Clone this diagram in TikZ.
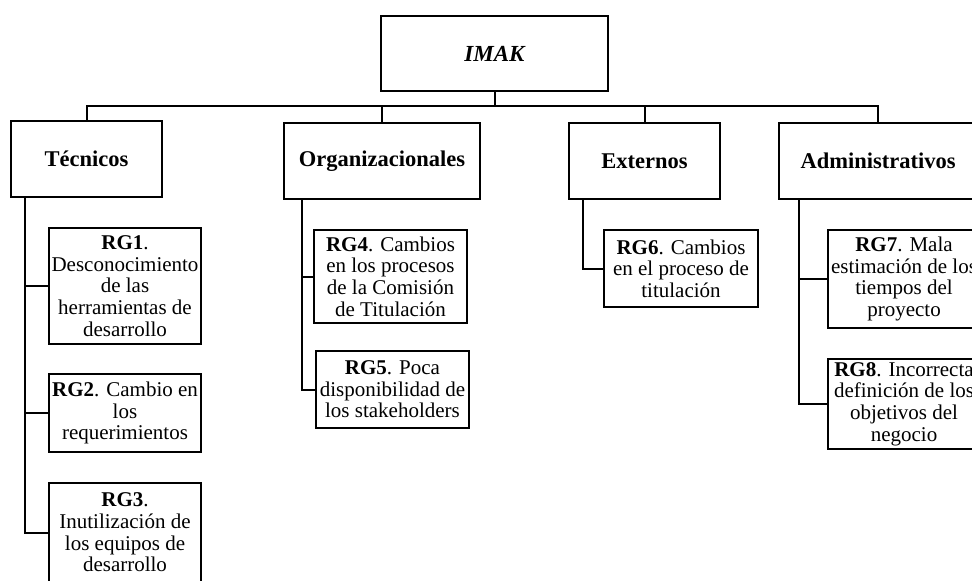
\documentclass[tikz,border=0pt]{standalone}
\usepackage{fontspec}
\setmainfont{Liberation Serif}
\begin{document}
\begin{tikzpicture}[x=1pt,y=-1pt,
  box/.style={draw, line width=2.2pt, inner sep=0pt, align=center},
  head/.style={box, font=\fontsize{22.5}{26}\selectfont\bfseries},
  risk/.style={box, font=\fontsize{21}{21.6}\selectfont},
  link/.style={line width=2pt}]
\useasboundingbox (0,0) rectangle (972,581);
\clip (0,0) rectangle (972,581);

% root
\node[box, minimum width=227pt, minimum height=75pt,
      font=\fontsize{23}{26}\selectfont\bfseries\itshape] (imak) at (494.5,53.5) {IMAK};

% categories
\node[head, minimum width=151pt, minimum height=76pt] (tec) at (86.5,159) {Técnicos};
\node[head, minimum width=196pt, minimum height=76pt] (org) at (382,161) {Organizacionales};
\node[head, minimum width=151pt, minimum height=76pt] (ext) at (644.5,161) {Externos};
\node[head, minimum width=198pt, minimum height=76pt] (adm) at (878,161) {Administrativos};

% risks
\node[risk, minimum width=152pt, minimum height=116pt] (rg1) at (125,286)
  {\textbf{RG1}.\\Desconocimiento\\de las\\herramientas de\\desarrollo};
\node[risk, minimum width=152pt, minimum height=78pt] (rg2) at (125,413)
  {\textbf{RG2}. Cambio en\\los\\requerimientos};
\node[risk, minimum width=152pt, minimum height=99pt] (rg3) at (125,532.5)
  {\textbf{RG3}.\\Inutilización de\\los equipos de\\desarrollo};
\node[risk, minimum width=153pt, minimum height=93pt] (rg4) at (390.5,276.5)
  {\textbf{RG4}. Cambios\\en los procesos\\de la Comisión\\de Titulación};
\node[risk, minimum width=153pt, minimum height=77pt] (rg5) at (392.5,389.5)
  {\textbf{RG5}. Poca\\disponibilidad de\\los stakeholders};
\node[risk, minimum width=154pt, minimum height=77pt] (rg6) at (681,268.5)
  {\textbf{RG6}. Cambios\\en el proceso de\\titulación};
\node[risk, minimum width=152pt, minimum height=98pt] (rg7) at (904,279)
  {\textbf{RG7}. Mala\\estimación de los\\tiempos del\\proyecto};
\node[risk, minimum width=152pt, minimum height=90pt] (rg8) at (904,404)
  {\textbf{RG8}. Incorrecta\\definición de los\\objetivos del\\negocio};

% bus from the root to the categories
\coordinate (bus) at (0,106);
\draw[link] (imak.south) -- (imak.south |- bus);
\foreach \c in {tec,org,ext,adm}
  \draw[link] (imak.south |- bus) -| (\c.north);

% branches from each category to its risks
\draw[link] ([xshift=15pt]tec.south west) coordinate (t) |- (rg3.west);
\draw[link] (t |- rg1.west) -- (rg1.west);
\draw[link] (t |- rg2.west) -- (rg2.west);

\draw[link] ([xshift=19pt]org.south west) coordinate (o) |- (rg5.west);
\draw[link] (o |- rg4.west) -- (rg4.west);

\draw[link] ([xshift=15pt]ext.south west) |- (rg6.west);

\draw[link] ([xshift=21pt]adm.south west) coordinate (a) |- (rg8.west);
\draw[link] (a |- rg7.west) -- (rg7.west);
\end{tikzpicture}
\end{document}
